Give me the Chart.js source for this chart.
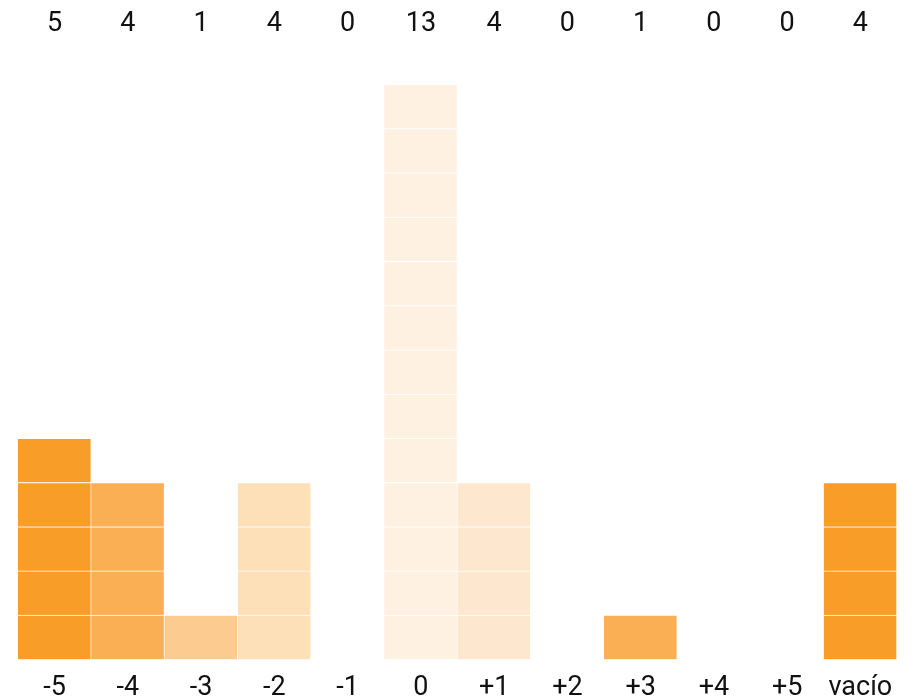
<!DOCTYPE html>
<html>
<head>
<meta charset="utf-8">
<script src="https://cdn.jsdelivr.net/npm/chart.js@4"></script>
<style>
  html, body { margin: 0; padding: 0; background: #fff; }
  #wrap { width: 921px; height: 697px; }
</style>
</head>
<body>
<div id="wrap"><canvas id="score-chart"></canvas></div>
<script>
const categories = ["-5", "-4", "-3", "-2", "-1", "0", "+1", "+2", "+3", "+4", "+5", "vacío"]
const counts = [5, 4, 1, 4, 0, 13, 4, 0, 1, 0, 0, 4]
const colors = [
  "#F89E28", "#FAAF55", "#FCCB8F", "#FDDFB8", "#FDDFB8", "#FEF1E2",
  "#FDE7CF", "#FDE7CF", "#FAAF55", "#FAAF55", "#FAAF55", "#F89E28",
]

// one stacked dataset per unit level, each block = 1
const maxCount = Math.max(...counts)
const datasets = []
for (let level = 0; level < maxCount; level++) {
  datasets.push({
    data: counts.map((c) => (c > level ? 1 : null)),
    backgroundColor: colors,
    borderColor: "#ffffff",
    borderWidth: { top: 1, right: 1, bottom: 0, left: 0 },
    borderSkipped: false,
    barPercentage: 1,
    categoryPercentage: 1,
    xAxisID: "x",
  })
}

const labelFont = { family: "Roboto", size: 27 }

const scoreChart = new Chart(document.getElementById("score-chart"), {
  type: "bar",
  data: {
    labels: categories,
    datasets: datasets,
  },
  options: {
    responsive: true,
    maintainAspectRatio: false,
    animation: false,
    layout: {
      padding: { left: 18, right: 24, top: -28, bottom: -12 },
    },
    scales: {
      x: {
        stacked: true,
        grid: { display: false },
        border: { display: false },
        ticks: {
          color: "#111",
          font: { ...labelFont, lineHeight: 0.8 },
          padding: 10,
          maxRotation: 0,
          autoSkip: false,
        },
      },
      x2: {
        type: "category",
        position: "top",
        labels: counts.map(String),
        grid: { display: false },
        border: { display: false },
        ticks: {
          color: "#111",
          font: labelFont,
          padding: 36,
          maxRotation: 0,
          autoSkip: false,
        },
      },
      y: {
        stacked: true,
        display: false,
        min: 0,
        max: maxCount,
      },
    },
    plugins: {
      legend: { display: false },
      tooltip: { enabled: false },
    },
  },
})
</script>
</body>
</html>
